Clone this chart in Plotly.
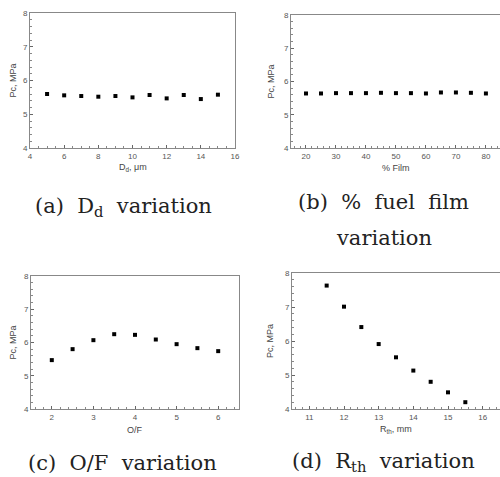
import plotly.graph_objects as go

# Data
dd_x = [5, 6, 7, 8, 9, 10, 11, 12, 13, 14, 15]
dd_pc = [5.60, 5.56, 5.54, 5.52, 5.54, 5.50, 5.57, 5.47, 5.57, 5.45, 5.58]

film_x = [20, 25, 30, 35, 40, 45, 50, 55, 60, 65, 70, 75, 80]
film_pc = [5.64, 5.64, 5.65, 5.65, 5.65, 5.66, 5.65, 5.65, 5.64, 5.67, 5.67, 5.66, 5.64]

of_x = [2, 2.5, 3, 3.5, 4, 4.5, 5, 5.5, 6]
of_pc = [5.47, 5.80, 6.07, 6.25, 6.23, 6.09, 5.95, 5.83, 5.74]

rth_x = [11.5, 12, 12.5, 13, 13.5, 14, 14.5, 15, 15.5]
rth_pc = [7.63, 7.01, 6.41, 5.91, 5.52, 5.13, 4.80, 4.49, 4.20]

x_titles = ["D<sub>d</sub>, μm", "% Film", "O/F", "R<sub>th</sub>, mm"]
y_title = "Pc, MPa"
SP = "&nbsp;&nbsp;"
captions = ["(a)" + SP + "D<sub>d</sub>" + SP + "variation",
            "(b)" + SP + "%" + SP + "fuel" + SP + "film",
            "variation",
            "(c)" + SP + "O/F" + SP + "variation",
            "(d)" + SP + "R<sub>th</sub>" + SP + "variation"]

W, H = 500, 477
def dx(a, b):
    return [a / W, min(b / W, 1.0)]
def dy(top, bottom):
    return [1 - bottom / H, 1 - top / H]

panels = [
    dict(x=dd_x, y=dd_pc, xl=30, xr_px=235, yt=13, yb=148, xr=[4, 16], xdt=2, ytx=12, xty=168),
    dict(x=film_x, y=film_pc, xl=291, xr_px=500, yt=15, yb=148, xr=[15, 84.7], xdt=10, ytx=270, xty=168),
    dict(x=of_x, y=of_pc, xl=31, xr_px=239, yt=276, yb=409, xr=[1.5, 6.5], xdt=1, ytx=12, xty=430),
    dict(x=rth_x, y=rth_pc, xl=292, xr_px=500, yt=273, yb=409, xr=[10.5, 16.5], xdt=1, ytx=270, xty=429),
]

fig = go.Figure()
tickfont = dict(family="Liberation Sans, Arial", size=8, color="#555")
titlefont = dict(family="Liberation Sans, Arial", size=9, color="#444")
for i, p in enumerate(panels):
    n = "" if i == 0 else str(i + 1)
    fig.add_trace(go.Scatter(x=p["x"], y=p["y"], mode="markers",
                             marker=dict(symbol="square", size=4, color="black"),
                             xaxis="x" + n, yaxis="y" + n, showlegend=False))
    axcommon = dict(showline=True, linecolor="#888", linewidth=1, mirror=True,
                    ticks="inside", ticklen=3, tickcolor="#666", showgrid=False,
                    zeroline=False, tickfont=tickfont, automargin=False)
    fig.layout["xaxis" + n] = dict(domain=dx(p["xl"], p["xr_px"]), anchor="y" + n, range=p["xr"],
                                   dtick=p["xdt"], tick0=0,
                                   minor=dict(ticks="inside", ticklen=2, tickcolor="#888", showgrid=False),
                                   **axcommon)
    fig.layout["yaxis" + n] = dict(domain=dy(p["yt"], p["yb"]), anchor="x" + n, range=[4, 8],
                                   dtick=1,
                                   minor=dict(ticks="inside", ticklen=2, tickcolor="#888", showgrid=False),
                                   **axcommon)
    # axis titles
    fig.add_annotation(text=x_titles[i], x=(p["xl"] + min(p["xr_px"], 500)) / 2 / W,
                       y=1 - p["xty"] / H, xref="paper", yref="paper",
                       xanchor="center", yanchor="middle", showarrow=False, font=titlefont)
    fig.add_annotation(text=y_title, x=p["ytx"] / W, y=1 - (p["yt"] + p["yb"]) / 2 / H,
                       xref="paper", yref="paper", textangle=-90,
                       xanchor="center", yanchor="middle", showarrow=False, font=titlefont)

cap_pos = [(123, 222), (383, 216), (384, 252), (122, 477), (383, 477)]
for c, (cx, cy) in zip(captions, cap_pos):
    fig.add_annotation(text=c, x=cx / W, y=1 - cy / H, xref="paper", yref="paper",
                       xanchor="center", yanchor="bottom", showarrow=False,
                       font=dict(family="DejaVu Serif", size=21, color="#222"))

fig.update_layout(width=W, height=H, margin=dict(l=0, r=0, t=0, b=0, autoexpand=False),
                  plot_bgcolor="white", paper_bgcolor="white")
fig.write_html("out.html", config={"displayModeBar": False},
               post_script="document.body.style.margin='0px';")
